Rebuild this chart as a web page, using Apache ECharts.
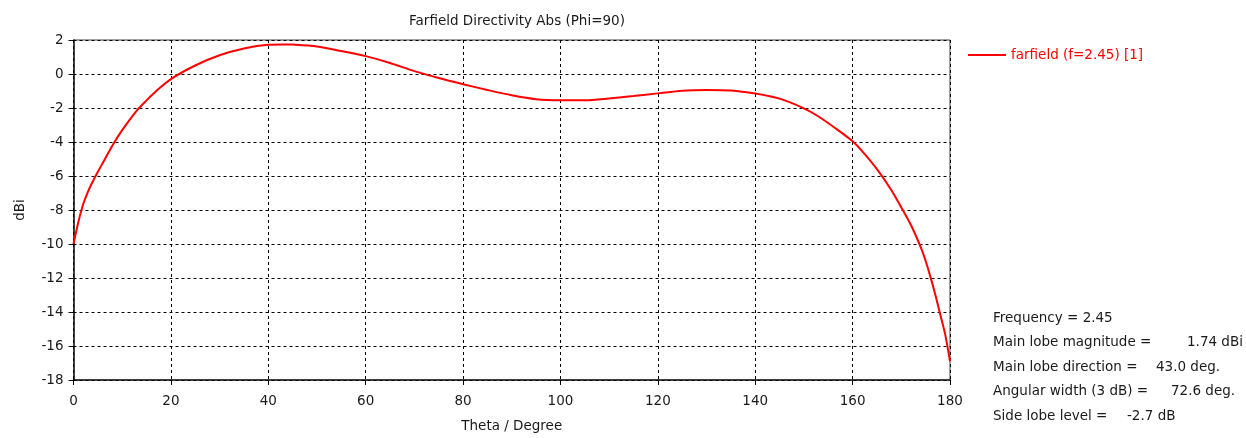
<!DOCTYPE html>
<html>
<head>
<meta charset="utf-8">
<script src="https://cdn.jsdelivr.net/npm/echarts@6/dist/echarts.min.js"></script>
<style>html,body{margin:0;padding:0;background:#fff}#c{width:1246px;height:438px}</style>
</head>
<body>
<div id="c"></div>
<script>
const theta = [0,1,2,3,4,5,6,8,10,13,15,17,20,25,30,35,40,43,45,50,55,60,65,70,75,80,85,90,95,100,105,110,115,120,125,130,135,140,145,150,153,157,160,162,165,168,170,172,174,175,176,177,178,179,180];
const directivity = [-10,-8.7,-7.65,-6.9,-6.3,-5.75,-5.24,-4.2,-3.3,-2.15,-1.55,-1.0,-0.3,0.5,1.1,1.5,1.72,1.74,1.73,1.62,1.35,1.05,0.65,0.17,-0.24,-0.6,-0.94,-1.25,-1.48,-1.54,-1.54,-1.44,-1.3,-1.14,-0.98,-0.94,-0.97,-1.15,-1.45,-2.02,-2.5,-3.3,-3.96,-4.55,-5.6,-6.85,-7.85,-8.9,-10.2,-11.0,-11.95,-13.0,-14.15,-15.3,-16.9];
const seriesName = 'farfield (f=2.45) [1]';
const titleText = 'Farfield Directivity Abs (Phi=90)';
const infoLabels = ['Frequency = 2.45','Main lobe magnitude =','Main lobe direction =','Angular width (3 dB) =','Side lobe level ='];
const infoValues = ['','1.74 dBi','43.0 deg.','72.6 deg.','-2.7 dB'];
const infoValueX = [0,1187,1156,1171,1127];

const FONT = 'DejaVu Sans';
const FS = 13.5;
const chart = echarts.init(document.getElementById('c'), null, {renderer:'canvas'});
const graphics = [];
infoLabels.forEach((t,i)=>{
  graphics.push({type:'text', left:993, top:311+i*24.5, style:{text:t, font:FS+'px "'+FONT+'"', fill:'#1a1a1a'}});
  if(infoValues[i]) graphics.push({type:'text', left:infoValueX[i], top:311+i*24.5, style:{text:infoValues[i], font:FS+'px "'+FONT+'"', fill:'#1a1a1a'}});
});
graphics.push({type:'line', shape:{x1:73.5,y1:40,x2:950,y2:40}, style:{stroke:'#808080', lineWidth:1.5}});
graphics.push({type:'line', shape:{x1:950,y1:40,x2:950,y2:380}, style:{stroke:'#808080', lineWidth:1.5}});

chart.setOption({
  animation:false,
  textStyle:{fontFamily:FONT},
  title:{text:titleText, left:512, top:9, textAlign:'center', textStyle:{fontSize:FS, fontWeight:'normal', color:'#1a1a1a', fontFamily:FONT}},
  legend:{data:[seriesName], left:968, top:48, padding:0, icon:'rect', itemWidth:38, itemHeight:2, itemGap:10,
    textStyle:{color:'#ff0000', fontSize:FS, fontFamily:FONT}},
  grid:{left:73.5, top:40, width:876.5, height:340, containLabel:false},
  xAxis:{type:'value', min:0, max:180, interval:20, name:'Theta / Degree', nameLocation:'middle', nameGap:39,
    nameTextStyle:{fontSize:FS, color:'#1a1a1a', fontFamily:FONT},
    axisLine:{show:true, onZero:false, lineStyle:{color:'#000', width:1.5}},
    axisTick:{show:true, length:5, lineStyle:{color:'#000'}},
    axisLabel:{fontSize:FS, color:'#1a1a1a', margin:14, fontFamily:FONT},
    splitLine:{show:true, lineStyle:{color:'#000', type:[3,3], width:1}}},
  yAxis:{type:'value', min:-18, max:2, interval:2, name:'dBi', nameLocation:'middle', nameGap:46, nameRotate:90,
    nameTextStyle:{fontSize:FS, color:'#1a1a1a', fontFamily:FONT},
    axisLine:{show:true, onZero:false, lineStyle:{color:'#000', width:1.5}},
    axisTick:{show:true, length:5, lineStyle:{color:'#000'}},
    axisLabel:{fontSize:FS, color:'#1a1a1a', margin:10, fontFamily:FONT},
    splitLine:{show:true, lineStyle:{color:'#000', type:[3,3], width:1}}},
  series:[{name:seriesName, type:'line', data:theta.map((t,i)=>[t,directivity[i]]), smooth:0.3, showSymbol:false,
    lineStyle:{color:'#ff0000', width:2}, itemStyle:{color:'#ff0000'}, clip:false}],
  graphic:graphics
});
</script>
</body>
</html>
